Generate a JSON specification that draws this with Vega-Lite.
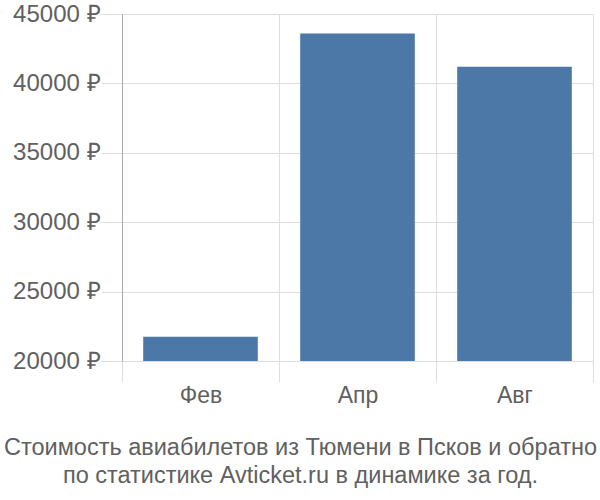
{
  "$schema": "https://vega.github.io/schema/vega-lite/v6.json",
  "autosize": "none",
  "width": 471,
  "height": 347,
  "padding": {"left": 122, "top": 14, "right": 7, "bottom": 139},
  "background": "white",
  "title": {
    "text": ["Стоимость авиабилетов из Тюмени в Псков и обратно", "по статистике Avticket.ru в динамике за год."],
    "orient": "bottom",
    "anchor": "middle",
    "dx": -57,
    "offset": 29,
    "font": "Liberation Sans",
    "fontSize": 23.5,
    "fontWeight": "normal",
    "lineHeight": 28,
    "color": "#606060"
  },
  "data": {
    "values": [
      {"month": "Фев", "price": 21750},
      {"month": "Апр", "price": 43600},
      {"month": "Авг", "price": 41200}
    ]
  },
  "mark": {"type": "bar", "color": "#4c78a8", "width": {"band": 0.73}},
  "encoding": {
    "x": {
      "field": "month",
      "type": "nominal",
      "sort": null,
      "title": null,
      "scale": {"paddingInner": 0, "paddingOuter": 0},
      "axis": {
        "tickBand": "extent",
        "grid": true,
        "gridColor": "#dddddd",
        "tickColor": "#dddddd",
        "tickSize": 21,
        "domain": false,
        "labelAngle": 0,
        "labelFont": "Liberation Sans",
        "labelFontSize": 23,
        "labelColor": "#606060",
        "labelPadding": 2
      }
    },
    "y": {
      "field": "price",
      "type": "quantitative",
      "title": null,
      "scale": {"domain": [20000, 45000], "zero": false, "nice": false},
      "axis": {
        "values": [20000, 25000, 30000, 35000, 40000, 45000],
        "labelExpr": "format(datum.value, 'd') + ' ₽'",
        "grid": true,
        "gridColor": "#dddddd",
        "tickColor": "#dddddd",
        "tickSize": 21,
        "domain": true,
        "domainColor": "#aaaaaa",
        "labelFont": "Liberation Sans",
        "labelFontSize": 24,
        "labelColor": "#606060",
        "labelPadding": 1
      }
    },
    "y2": {"datum": 20000}
  },
  "config": {"view": {"stroke": null}}
}
